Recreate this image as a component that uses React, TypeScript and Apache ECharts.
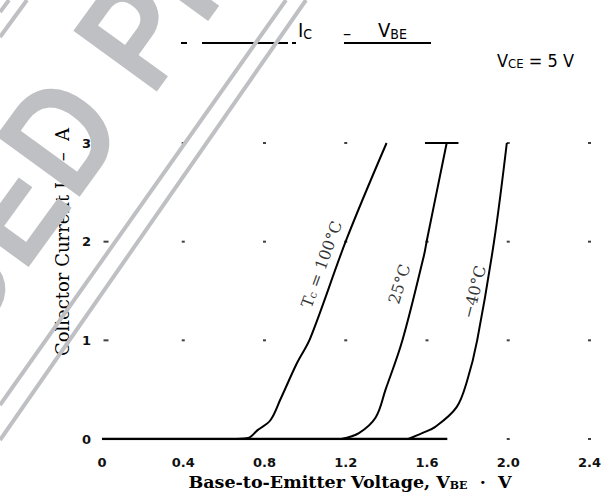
import React, { useEffect, useRef } from 'react';
import * as echarts from 'echarts';

// ---- data ----
const xTicks = [0, 0.4, 0.8, 1.2, 1.6, 2.0, 2.4];
const xTickLabels = ['0', '0.4', '0.8', '1.2', '1.6', '2.0', '2.4'];
const yTicks = [0, 1, 2, 3];
const yTickLabels = ['0', '1', '2', '3'];

// VBE (V), IC (A)
const curve100 = [[0.635, 0], [0.718, 0.01], [0.766, 0.09], [0.829, 0.19], [0.878, 0.40], [0.96, 0.77], [1.025, 1.02], [1.205, 2.03], [1.401, 3.0]];
const curve25 = [[1.178, 0], [1.265, 0.06], [1.348, 0.22], [1.396, 0.50], [1.479, 1.0], [1.585, 1.86], [1.600, 2.02], [1.697, 3.0]];
const curveM40 = [[1.508, 0], [1.576, 0.06], [1.639, 0.12], [1.745, 0.32], [1.799, 0.60], [1.847, 1.0], [1.930, 2.0], [1.993, 3.0]];
const zeroLine = [[0, 0], [1.70, 0]];
const capLine = [[1.59, 3], [1.755, 3]];

const curveLabelTexts = ['T{s|c} = 100°C', '25°C', '−40°C'];
const curveLabelV = [1.081, 1.464, 1.833];
const curveLabelI = [1.77, 1.57, 1.49];
const curveLabelAngle = [70, 73, 76];

const dotRowsI = [1, 2, 3];
const extraDots = [[2.0, 0], [2.4, 0]];

export default function App() {
  const ref = useRef<HTMLDivElement>(null);
  useEffect(() => {
    const el = ref.current!;
    const chart = echarts.init(el, null, { renderer: 'svg' });

    const dots: number[][] = [];
    dotRowsI.forEach((i) => xTicks.forEach((v) => { if (v > 0) dots.push([v, i]); }));
    extraDots.forEach((d) => dots.push(d));
    const tickDashes = dotRowsI.map((i) => [0, i]);

    const mkLine = (name: string, data: number[][], smooth: number | boolean = 0.35, width = 2) => ({
      name,
      type: 'line',
      data,
      smooth,
      showSymbol: false,
      symbol: 'none',
      lineStyle: { color: '#000', width },
      silent: true,
      z: 3,
    });

    const gray = '#bfc0c3';
    const wmRot = 54 * Math.PI / 180;
    const wmFont = { fontSize: 150, fontWeight: 'bold', fontFamily: 'Liberation Sans', fill: gray };

    const sub = (size: number, family: string, weight = 'normal') => ({
      fontSize: size, fontFamily: family, fontWeight: weight, fill: '#000', lineHeight: 10, verticalAlign: 'bottom',
    });

    chart.setOption({
      animation: false,
      backgroundColor: '#fff',
      grid: { left: 102, right: 7, top: 143, bottom: 56, containLabel: false },
      xAxis: {
        type: 'value', min: 0, max: 2.4, interval: 0.4,
        axisLine: { show: false }, axisTick: { show: false }, splitLine: { show: false },
        axisLabel: {
          margin: 17, color: '#111', fontSize: 13, fontWeight: 'bold', fontFamily: 'DejaVu Sans',
          formatter: (v: number, idx: number) => xTickLabels[idx] ?? String(v),
        },
      },
      yAxis: {
        type: 'value', min: 0, max: 3, interval: 1,
        axisLine: { show: false }, axisTick: { show: false }, splitLine: { show: false },
        axisLabel: {
          margin: 11, color: '#111', fontSize: 13, fontWeight: 'bold', fontFamily: 'DejaVu Sans',
          formatter: (v: number, idx: number) => yTickLabels[idx] ?? String(v),
        },
      },
      series: [
        { type: 'scatter', data: dots, symbol: 'rect', symbolSize: [3, 2], itemStyle: { color: '#111' }, silent: true, z: 1 },
        { type: 'scatter', data: tickDashes, symbol: 'rect', symbolSize: [5, 2], symbolOffset: [4, 0], itemStyle: { color: '#111' }, silent: true, z: 1 },
        mkLine('zero', zeroLine, false, 2.5),
        mkLine('cap', capLine, false, 2),
        mkLine('Tc=100°C', curve100),
        mkLine('25°C', curve25),
        mkLine('-40°C', curveM40),
        {
          type: 'scatter', symbolSize: 0, silent: true, z: 4,
          data: curveLabelTexts.map((t, k) => ({
            value: [curveLabelV[k], curveLabelI[k]],
            label: {
              show: true, position: 'inside', formatter: t, rotate: curveLabelAngle[k],
              color: '#000', fontSize: 16, fontFamily: 'DejaVu Serif',
              rich: { s: { fontSize: 11, fontFamily: 'DejaVu Serif', color: '#000', verticalAlign: 'bottom', lineHeight: 10 } },
            },
          })),
        },
      ],
      graphic: [
        // title
        {
          type: 'text', x: 298, y: 30, z: 10,
          style: {
            text: '{a|I}{s|C}', align: 'left', verticalAlign: 'middle',
            rich: { a: { fontSize: 20, fontFamily: 'DejaVu Sans Condensed', fill: '#000', lineHeight: 22 }, s: sub(14, 'DejaVu Sans Condensed') },
          },
        },
        {
          type: 'text', x: 347, y: 32, z: 10,
          style: { text: '–', align: 'center', verticalAlign: 'middle', fontSize: 18, fontFamily: 'DejaVu Sans Condensed', fill: '#000' },
        },
        {
          type: 'text', x: 378, y: 30, z: 10,
          style: {
            text: '{a|V}{s|BE}', align: 'left', verticalAlign: 'middle',
            rich: { a: { fontSize: 20, fontFamily: 'DejaVu Sans Condensed', fill: '#000', lineHeight: 22 }, s: sub(14, 'DejaVu Sans Condensed') },
          },
        },
        { type: 'line', z: 10, shape: { x1: 181, y1: 43, x2: 187, y2: 43 }, style: { stroke: '#000', lineWidth: 2 } },
        { type: 'line', z: 10, shape: { x1: 202, y1: 43, x2: 288, y2: 43 }, style: { stroke: '#000', lineWidth: 2 } },
        { type: 'line', z: 10, shape: { x1: 292, y1: 43, x2: 296, y2: 43 }, style: { stroke: '#000', lineWidth: 2 } },
        { type: 'line', z: 10, shape: { x1: 344, y1: 43, x2: 431, y2: 43 }, style: { stroke: '#000', lineWidth: 2 } },
        // condition
        {
          type: 'text', x: 497, y: 60, z: 10,
          style: {
            text: '{a|V}{s|CE}{a| = 5 V}', align: 'left', verticalAlign: 'middle',
            rich: { a: { fontSize: 18, fontFamily: 'DejaVu Sans Condensed', fill: '#000', lineHeight: 20 }, s: sub(13, 'DejaVu Sans Condensed') },
          },
        },
        // y axis name
        {
          type: 'text', x: 62, y: 242, rotation: Math.PI / 2, z: 10,
          style: {
            text: '{a|Collector Current I}{s|C}{a|  –  A}', align: 'center', verticalAlign: 'middle',
            rich: { a: { fontSize: 18, fontFamily: 'DejaVu Serif', fill: '#000', lineHeight: 20 }, s: sub(12, 'DejaVu Serif') },
          },
        },
        // x axis name
        {
          type: 'text', x: 350, y: 482, z: 10,
          style: {
            text: '{a|Base-to-Emitter Voltage, V}{s|BE}{a|  ·  V}', align: 'center', verticalAlign: 'middle',
            rich: {
              a: { fontSize: 17.5, fontFamily: 'DejaVu Serif', fontWeight: 'bold', fill: '#000', lineHeight: 18 },
              s: sub(11, 'DejaVu Serif', 'bold'),
            },
          },
        },
        // watermark
        { type: 'text', x: 88, y: 97, rotation: wmRot, scaleX: 0.87, z: 20, style: { text: 'DISCONTINUED', align: 'right', verticalAlign: 'middle', ...wmFont } },
        { type: 'text', x: 110, y: 68, rotation: wmRot, scaleX: 0.87, z: 20, style: { text: 'PRODUCT', align: 'left', verticalAlign: 'middle', ...wmFont } },
        { type: 'line', z: 20, shape: { x1: 286, y1: 0, x2: 0, y2: 405 }, style: { stroke: gray, lineWidth: 4 } },
        { type: 'line', z: 20, shape: { x1: 306, y1: 0, x2: 0, y2: 440 }, style: { stroke: gray, lineWidth: 4 } },
        { type: 'line', z: 20, shape: { x1: 9, y1: 0, x2: 0, y2: 12 }, style: { stroke: gray, lineWidth: 4 } },
        { type: 'line', z: 20, shape: { x1: 27, y1: 0, x2: 0, y2: 37 }, style: { stroke: gray, lineWidth: 4 } },
      ],
    });
    return () => chart.dispose();
  }, []);
  return <div ref={ref} style={{ position: 'fixed', left: 0, top: 0, width: 604, height: 495 }} />;
}
